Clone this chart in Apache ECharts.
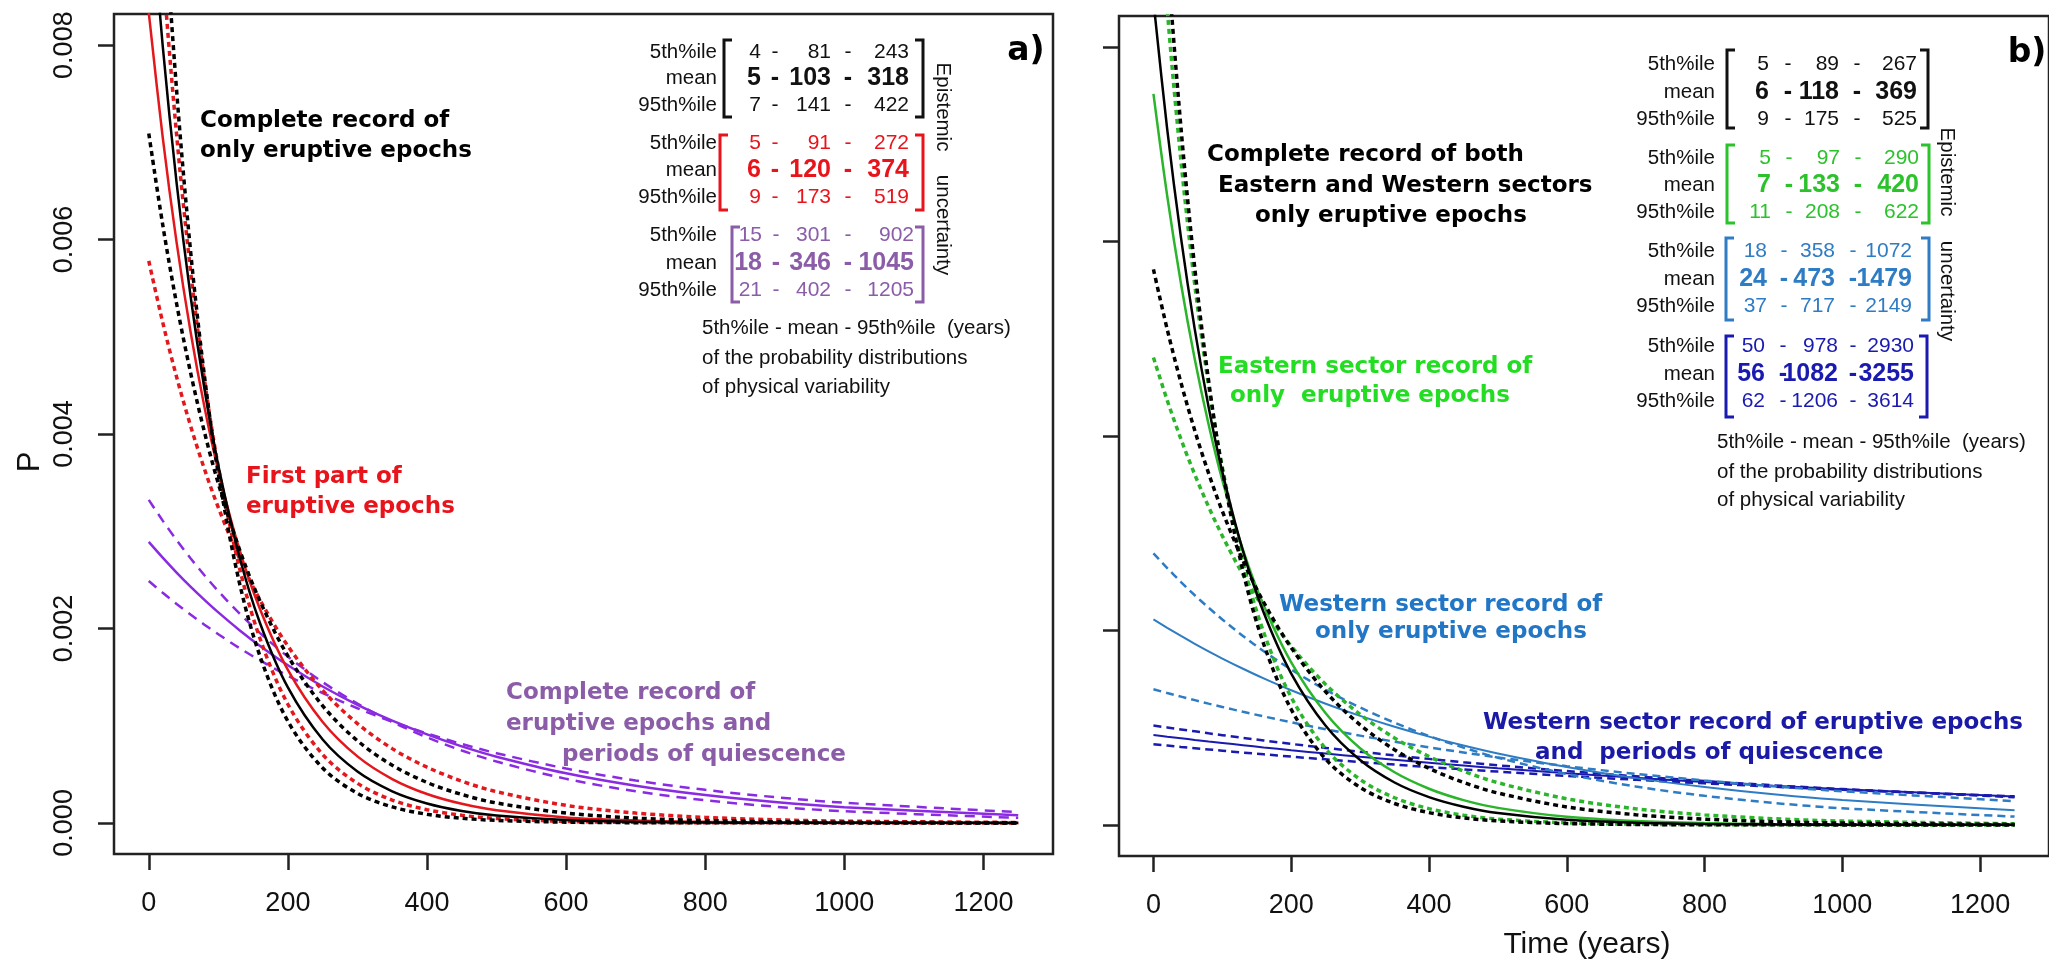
<!DOCTYPE html>
<html><head><meta charset="utf-8">
<script src="https://cdn.jsdelivr.net/npm/echarts@6/dist/echarts.min.js"></script>
<style>html,body{margin:0;padding:0;background:#fff}#c{width:2049px;height:962px}</style>
</head><body><div id="c"></div>
<script>
// ---------------- data ----------------
const TIME = [0,20,40,60,80,100,130,160,200,250,300,350,400,450,500,600,700,800,900,1000,1250];
const X_TICKS = [0,200,400,600,800,1000,1200];
const Y_TICKS = [0,0.002,0.004,0.006,0.008];

// panel a
const A_BLACK_P5   = [0.012346,0.009645,0.007535,0.005887,0.004598,0.003592,0.002480,0.001713,0.001045,0.000564,0.000304,0.000164,0.0000885,0.0000477,0.0000257,0.0000075,0.0000022,0.0000006,0.0000002,0,0];
const A_BLACK_MEAN = [0.009709,0.007995,0.006584,0.005422,0.004465,0.003677,0.002748,0.002054,0.001393,0.000857,0.000528,0.000325,0.000200,0.000123,0.0000757,0.0000287,0.0000109,0.0000041,0.0000016,0.0000006,0];
const A_BLACK_P95  = [0.007092,0.006154,0.005340,0.004634,0.004021,0.003490,0.002821,0.002280,0.001717,0.001204,0.000845,0.000593,0.000416,0.000292,0.000205,0.000101,0.0000495,0.0000244,0.0000120,0.0000059,0.0000010];
const A_RED_P5     = [0.010989,0.008821,0.007080,0.005683,0.004562,0.003662,0.002634,0.001894,0.001220,0.000704,0.000407,0.000235,0.000136,0.0000782,0.0000452,0.0000150,0.0000050,0.0000017,0.0000006,0.0000002,0];
const A_RED_MEAN   = [0.008333,0.007054,0.005971,0.005054,0.004279,0.003622,0.002821,0.002197,0.001574,0.001038,0.000684,0.000451,0.000297,0.000196,0.000129,0.0000561,0.0000244,0.0000106,0.0000046,0.0000020,0.0000002];
const A_RED_P95    = [0.005780,0.005149,0.004587,0.004086,0.003640,0.003243,0.002726,0.002292,0.001819,0.001363,0.001021,0.000764,0.000573,0.000429,0.000321,0.000180,0.000101,0.0000567,0.0000318,0.0000178,0.0000042];
const A_PURP_P5    = [0.003322,0.003109,0.002909,0.002722,0.002547,0.002383,0.002157,0.001952,0.001710,0.001448,0.001226,0.001039,0.000880,0.000745,0.000631,0.000453,0.000325,0.000233,0.000167,0.000120,0.0000522];
const A_PURP_MEAN  = [0.002890,0.002728,0.002575,0.002430,0.002294,0.002165,0.001985,0.001820,0.001621,0.001403,0.001214,0.001051,0.000910,0.000787,0.000681,0.000510,0.000382,0.000286,0.000214,0.000161,0.0000780];
const A_PURP_P95   = [0.002488,0.002367,0.002252,0.002143,0.002039,0.001940,0.001800,0.001671,0.001513,0.001336,0.001179,0.001041,0.000920,0.000812,0.000717,0.000559,0.000436,0.000340,0.000265,0.000207,0.000111];

// panel b
const B_BLACK_P5   = [0.011236,0.008975,0.007168,0.005726,0.004573,0.003653,0.002608,0.001861,0.001188,0.000677,0.000386,0.000220,0.000126,0.0000716,0.0000408,0.0000133,0.0000043,0.0000014,0.0000005,0.0000001,0];
const B_BLACK_MEAN = [0.008475,0.007153,0.006038,0.005097,0.004302,0.003631,0.002816,0.002184,0.001556,0.001019,0.000667,0.000436,0.000286,0.000187,0.000122,0.0000525,0.0000225,0.0000096,0.0000041,0.0000018,0.0000002];
const B_BLACK_P95  = [0.005714,0.005097,0.004547,0.004056,0.003618,0.003227,0.002719,0.002290,0.001822,0.001369,0.001029,0.000773,0.000581,0.000437,0.000328,0.000185,0.000105,0.0000591,0.0000334,0.0000189,0.0000045];
const B_GREEN_P5   = [0.010309,0.008388,0.006825,0.005554,0.004519,0.003677,0.002699,0.001981,0.001312,0.000783,0.000468,0.000279,0.000167,0.0000996,0.0000595,0.0000212,0.0000076,0.0000027,0.0000010,0.0000003,0];
const B_GREEN_MEAN = [0.007519,0.006469,0.005566,0.004789,0.004120,0.003545,0.002829,0.002258,0.001671,0.001148,0.000788,0.000541,0.000372,0.000255,0.000175,0.0000826,0.0000389,0.0000184,0.0000087,0.0000041,0.0000006];
const B_GREEN_P95  = [0.004808,0.004367,0.003967,0.003603,0.003273,0.002973,0.002573,0.002228,0.001838,0.001445,0.001136,0.000894,0.000703,0.000553,0.000434,0.000269,0.000166,0.000103,0.0000635,0.0000393,0.0000118];
const B_LBLUE_P5   = [0.002793,0.002642,0.002498,0.002362,0.002234,0.002113,0.001943,0.001787,0.001598,0.001389,0.001208,0.001051,0.000914,0.000795,0.000691,0.000523,0.000395,0.000299,0.000226,0.000171,0.0000851];
const B_LBLUE_MEAN = [0.002114,0.002027,0.001943,0.001862,0.001785,0.001711,0.001606,0.001507,0.001385,0.001246,0.001121,0.001009,0.000908,0.000817,0.000735,0.000595,0.000481,0.000390,0.000315,0.000255,0.000150];
const B_LBLUE_P95  = [0.001395,0.001356,0.001319,0.001283,0.001247,0.001213,0.001163,0.001116,0.001055,0.000984,0.000918,0.000856,0.000798,0.000745,0.000694,0.000604,0.000525,0.000457,0.000397,0.000346,0.000244];
const B_DBLUE_P5   = [0.001022,0.001002,0.000982,0.000962,0.000942,0.000923,0.000895,0.000868,0.000833,0.000792,0.000752,0.000715,0.000679,0.000645,0.000613,0.000554,0.000500,0.000451,0.000407,0.000368,0.000285];
const B_DBLUE_MEAN = [0.000924,0.000907,0.000891,0.000874,0.000858,0.000843,0.000820,0.000797,0.000768,0.000734,0.000700,0.000669,0.000639,0.000610,0.000582,0.000531,0.000484,0.000441,0.000402,0.000367,0.000291];
const B_DBLUE_P95  = [0.000829,0.000816,0.000802,0.000789,0.000776,0.000763,0.000744,0.000726,0.000702,0.000674,0.000647,0.000620,0.000595,0.000571,0.000548,0.000504,0.000464,0.000427,0.000393,0.000362,0.000294];

// tables (years)
const ROW_LABELS = ['5th%ile','mean','95th%ile'];
const TAB_A_BLACK  = [['4','81','243'],['5','103','318'],['7','141','422']];
const TAB_A_RED    = [['5','91','272'],['6','120','374'],['9','173','519']];
const TAB_A_PURPLE = [['15','301','902'],['18','346','1045'],['21','402','1205']];
const TAB_B_BLACK  = [['5','89','267'],['6','118','369'],['9','175','525']];
const TAB_B_GREEN  = [['5','97','290'],['7','133','420'],['11','208','622']];
const TAB_B_LBLUE  = [['18','358','1072'],['24','473','1479'],['37','717','2149']];
const TAB_B_DBLUE  = [['50','978','2930'],['56','1082','3255'],['62','1206','3614']];

// ---------------- styles ----------------
const C = {
  black:'#000000', red:'#e3171c', redTxt:'#e8141b', purple:'#8a2be2', purpTxt:'#8b5ca8',
  green:'#2ab52a', greenTxt:'#22dd22', greenTab:'#2cc22c',
  lblue:'#2e7cc4', lblueTxt:'#2176c6', dblue:'#1a1ab0', dblueTxt:'#1a1aa6'
};
const FONT_R = '"Liberation Sans", Arial, sans-serif';
const BOLD = (s)=>'bold '+s+'px "DejaVu Sans", sans-serif';
const REG = (s)=>s+'px '+FONT_R;
const REGB = (s)=>'bold '+s+'px '+FONT_R;

function pairs(arr){ return TIME.map((t,i)=>[t, arr[i]]); }
function line(idx, arr, color, width, dash){
  return {type:'line', xAxisIndex:idx, yAxisIndex:idx, data:pairs(arr), symbol:'none', showSymbol:false,
    smooth:0.33, silent:true, clip:true,
    lineStyle:{color:color, width:width, type: dash ? dash : 'solid'}};
}
const DS = [5,4];   // short thick dashes
const DL = [10,7];  // long dashes
const DM = [8,5];

const series = [
  line(0, A_PURP_P5, C.purple, 2.5, DL),
  line(0, A_PURP_P95, C.purple, 2.5, DL),
  line(0, A_PURP_MEAN, C.purple, 2.5),
  line(0, A_RED_P5, C.red, 3.5, DS),
  line(0, A_RED_P95, C.red, 3.5, DS),
  line(0, A_RED_MEAN, C.red, 2.5),
  line(0, A_BLACK_P5, C.black, 3.5, DS),
  line(0, A_BLACK_P95, C.black, 3.5, DS),
  line(0, A_BLACK_MEAN, C.black, 2.5),

  line(1, B_DBLUE_P5, C.dblue, 2.5, DM),
  line(1, B_DBLUE_P95, C.dblue, 2.5, DM),
  line(1, B_DBLUE_MEAN, C.dblue, 2),
  line(1, B_LBLUE_P5, C.lblue, 2.5, DM),
  line(1, B_LBLUE_P95, C.lblue, 2.5, DM),
  line(1, B_LBLUE_MEAN, C.lblue, 2),
  line(1, B_GREEN_P5, C.green, 3.5, DS),
  line(1, B_GREEN_P95, C.green, 3.5, DS),
  line(1, B_GREEN_MEAN, C.green, 2.5),
  line(1, B_BLACK_P5, C.black, 3.5, DS),
  line(1, B_BLACK_P95, C.black, 3.5, DS),
  line(1, B_BLACK_MEAN, C.black, 2.5)
];

function xAx(idx){
  return {gridIndex:idx, type:'value', min:-50, max:1300,
    axisLine:{show:false, onZero:false},
    axisTick:{show:true, inside:false, length:16, customValues:X_TICKS, lineStyle:{color:'#222', width:2.5}},
    axisLabel:{show:true, customValues:X_TICKS, margin:36, color:'#111', fontSize:27, fontFamily:FONT_R,
      formatter:(v)=>String(Math.round(v))},
    splitLine:{show:false}};
}
function yAx(idx, labels){
  return {gridIndex:idx, type:'value', min:-0.00032, max:0.00832,
    axisLine:{show:false, onZero:false},
    axisTick:{show:true, inside:false, length:16, customValues:Y_TICKS, lineStyle:{color:'#222', width:2.5}},
    axisLabel:{show:labels, customValues:Y_TICKS, rotate:90, margin:36, color:'#111', fontSize:27,
      fontFamily:FONT_R, formatter:(v)=>Number(v).toFixed(3)},
    splitLine:{show:false}};
}

// ---------------- annotations ----------------
const G = [];
function T(x, y, text, font, fill, align, rot){
  G.push({type:'text', x:x, y:y, rotation:rot||0, z:100, silent:true,
    style:{text:text, font:font, fill:fill, textAlign:align||'left', textVerticalAlign:'middle',
           align:align||'left', verticalAlign:'middle'}});
}
function bracket(x, y1, y2, dir, color){
  const s = 8*dir;
  G.push({type:'polyline', z:100, silent:true, shape:{points:[[x+s,y1],[x,y1],[x,y2],[x+s,y2]]},
    style:{stroke:color, lineWidth:3, fill:null}});
}
function block(tab, rowsY, labelRight, cols, dashes, color, bl, br, by){
  for (let r=0;r<3;r++){
    const y = rowsY[r];
    const isMean = r===1;
    const f = isMean ? REGB(25) : REG(21);
    T(labelRight, y, ROW_LABELS[r], REG(20.5), '#111', 'right');
    T(cols[0], y, tab[r][0], f, color, 'right');
    T(dashes[0], y, '-', f, color, 'center');
    T(cols[1], y, tab[r][1], f, color, 'right');
    T(dashes[1], y, '-', f, color, 'center');
    T(cols[2], y, tab[r][2], f, color, 'right');
  }
  bracket(bl, by[0], by[1], 1, color);
  bracket(br, by[0], by[1], -1, color);
}

// panel a table
block(TAB_A_BLACK,  [52,78,105],  717, [761,831,909], [775,848], '#111', 724, 923, [40,117]);
block(TAB_A_RED,    [143,170,197],717, [761,831,909], [775,848], C.redTxt, 720, 923, [135,210]);
block(TAB_A_PURPLE, [235,263,290],717, [762,831,914], [776,848], C.purpTxt, 732, 923, [227,302]);
T(943, 107, 'Epistemic', REG(20.5), '#111', 'center', -Math.PI/2);
T(943, 225, 'uncertainty', REG(20.5), '#111', 'center', -Math.PI/2);
T(702, 328, '5th%ile - mean - 95th%ile  (years)', REG(20.5), '#111', 'left');
T(702, 358, 'of the probability distributions', REG(20.5), '#111', 'left');
T(702, 387, 'of physical variability', REG(20.5), '#111', 'left');
T(1026, 51, 'a)', BOLD(33), '#000', 'center');

// panel b table
block(TAB_B_BLACK, [64,92,119],   1715, [1769,1839,1917], [1788,1857], '#111', 1727, 1928, [50,128]);
block(TAB_B_GREEN, [158,185,212], 1715, [1771,1840,1919], [1789,1858], C.greenTab, 1727, 1929, [145,223]);
block(TAB_B_LBLUE, [251,279,306], 1715, [1767,1835,1912], [1784,1853], C.lblue, 1726, 1929, [238,320]);
block(TAB_B_DBLUE, [346,374,401], 1715, [1765,1838,1914], [1783,1853], C.dblue, 1726, 1927, [336,417]);
T(1947, 172, 'Epistemic', REG(20.5), '#111', 'center', -Math.PI/2);
T(1947, 291, 'uncertainty', REG(20.5), '#111', 'center', -Math.PI/2);
T(1717, 442, '5th%ile - mean - 95th%ile  (years)', REG(20.5), '#111', 'left');
T(1717, 472, 'of the probability distributions', REG(20.5), '#111', 'left');
T(1717, 500, 'of physical variability', REG(20.5), '#111', 'left');
T(2027, 53, 'b)', BOLD(33), '#000', 'center');

// curve labels panel a
T(200, 121, 'Complete record of', BOLD(23), '#000');
T(200, 151, 'only eruptive epochs', BOLD(23), '#000');
T(246, 477, 'First part of', BOLD(23), C.redTxt);
T(246, 507, 'eruptive epochs', BOLD(23), C.redTxt);
T(506, 693, 'Complete record of', BOLD(23), C.purpTxt);
T(506, 724, 'eruptive epochs and', BOLD(23), C.purpTxt);
T(562, 755, 'periods of quiescence', BOLD(23), C.purpTxt);

// curve labels panel b
T(1207, 155, 'Complete record of both', BOLD(23), '#000');
T(1218, 186, 'Eastern and Western sectors', BOLD(23), '#000');
T(1255, 216, 'only eruptive epochs', BOLD(23), '#000');
T(1218, 367, 'Eastern sector record of', BOLD(23), C.greenTxt);
T(1230, 396, 'only  eruptive epochs', BOLD(23), C.greenTxt);
T(1279, 605, 'Western sector record of', BOLD(23), C.lblueTxt);
T(1315, 632, 'only eruptive epochs', BOLD(23), C.lblueTxt);
T(1483, 723, 'Western sector record of eruptive epochs', BOLD(23), C.dblueTxt);
T(1535, 753, 'and  periods of quiescence', BOLD(23), C.dblueTxt);

// axis titles
T(30, 462, 'P', REG(31), '#111', 'center', Math.PI/2);
T(1587, 945, 'Time (years)', REG(30), '#111', 'center');

const chart = echarts.init(document.getElementById('c'), null, {renderer:'canvas'});
chart.setOption({
  animation:false,
  backgroundColor:'#ffffff',
  grid:[
    {left:114, top:14, width:939, height:840, show:true, borderColor:'#222', borderWidth:2.5, backgroundColor:'transparent', containLabel:false},
    {left:1119, top:16, width:939, height:840, show:true, borderColor:'#222', borderWidth:2.5, backgroundColor:'transparent', containLabel:false}
  ],
  xAxis:[xAx(0), xAx(1)],
  yAxis:[yAx(0,true), yAx(1,false)],
  series:series,
  graphic:G
});
</script></body></html>
